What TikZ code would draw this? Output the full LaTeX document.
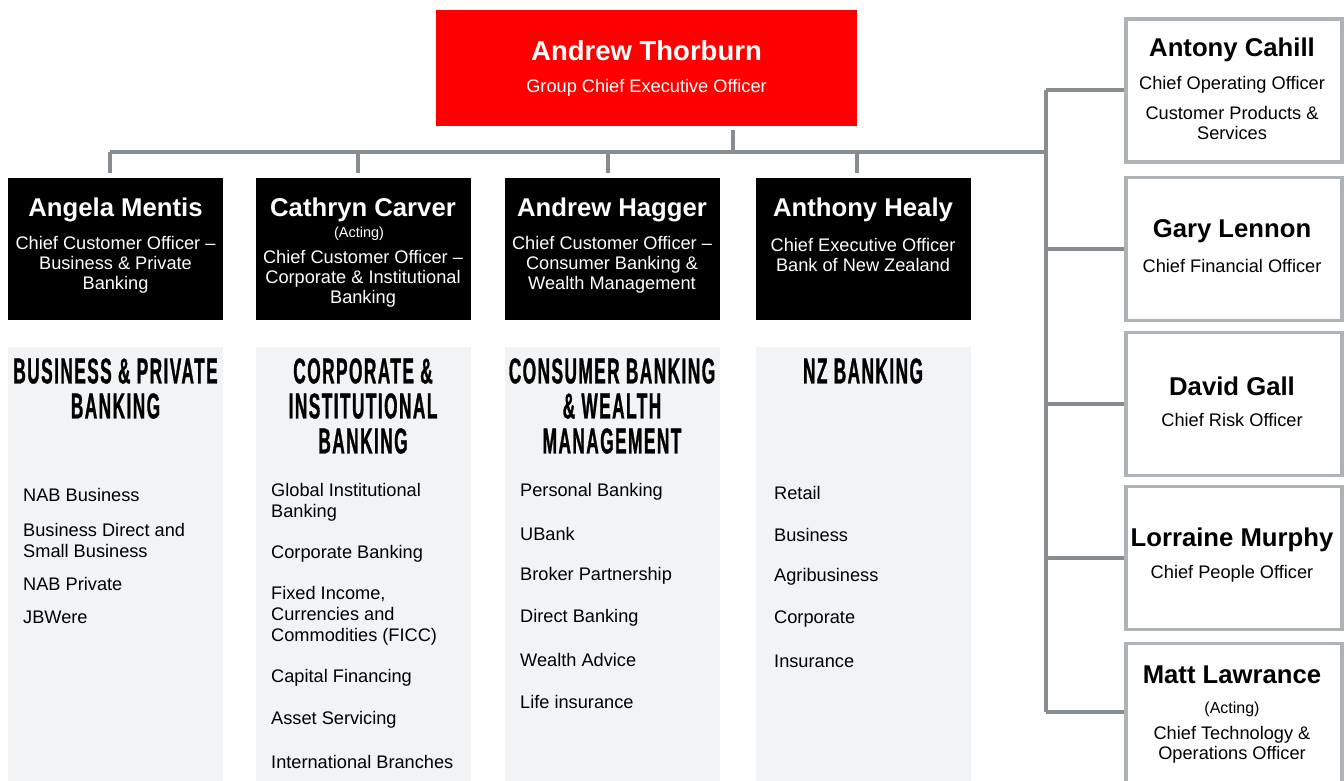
\documentclass[tikz,border=0pt]{standalone}
\usepackage{fontspec}
\setmainfont{Liberation Sans}
\newfontfamily\headfont[FakeStretch=0.48,FakeBold=0.8,LetterSpace=4]{Liberation Sans Bold}
\definecolor{nabred}{HTML}{FF0000}
\definecolor{conngray}{HTML}{868C90}
\definecolor{boxgray}{HTML}{ADB3B7}
\definecolor{panelgray}{HTML}{F2F3F5}
\begin{document}
\begin{tikzpicture}[x=1pt,y=-1pt,
  conn/.style={draw=conngray, line width=4pt},
  ceobox/.style={fill=nabred, minimum width=421pt, minimum height=116pt, anchor=north west, inner sep=0pt},
  execbox/.style={fill=black, minimum width=215pt, minimum height=142pt, anchor=north west, inner sep=0pt},
  panel/.style={fill=panelgray, minimum width=215pt, minimum height=440pt, anchor=north west, inner sep=0pt},
  sidebox/.style={draw=boxgray, line width=3.5pt, fill=white, minimum width=216pt, minimum height=143pt, anchor=north west, inner sep=0pt},
  pname/.style={font=\bfseries\fontsize{25.7}{28}\selectfont, inner sep=0pt},
  sub/.style={font=\fontsize{18.2}{20}\selectfont, align=center, inner sep=0pt},
  acting/.style={font=\fontsize{14.5}{16}\selectfont, inner sep=0pt},
  item/.style={font=\fontsize{18.2}{21}\selectfont, align=left, anchor=west, inner sep=0pt},
  head/.style={font=\headfont\fontsize{36}{35}\selectfont, align=center, inner sep=0pt}
]
\useasboundingbox (0,0) rectangle (1344,781);

% ---- connectors
\coordinate (ceodrop) at (733,130);
\coordinate (hub) at (733,152);
\coordinate (hleft) at (110,152);
\coordinate (hright) at (1046,152);
\coordinate (d1) at (110,173);
\coordinate (d2) at (358,173);
\coordinate (d3) at (608,173);
\coordinate (d4) at (857,173);
\coordinate (vtop) at (1046,90);
\coordinate (vbot) at (1046,712);

% ---- boxes
\node[ceobox] (ceo) at (436,10) {};
\node[execbox] (e1) at (8,178) {};
\node[execbox] (e2) at (256,178) {};
\node[execbox] (e3) at (505,178) {};
\node[execbox] (e4) at (756,178) {};
\node[panel] (p1) at (8,347) {};
\node[panel] (p2) at (256,347) {};
\node[panel] (p3) at (505,347) {};
\node[panel] (p4) at (756,347) {};

\draw[conn] (ceodrop) -- (hub);
\draw[conn] (hleft) -- (hright);
\draw[conn] (hleft) -- (d1);
\draw[conn] (d2 |- hub) -- (d2);
\draw[conn] (d3 |- hub) -- (d3);
\draw[conn] (d4 |- hub) -- (d4);
\draw[conn] (vtop) -- (vbot);

\node[sidebox] (s1) at (1124,17.5) {};
\node[sidebox] (s2) at (1124,175.5) {};
\node[sidebox] (s3) at (1124,330.5) {};
\node[sidebox] (s4) at (1124,484.5) {};
\node[sidebox] (s5) at (1124,641.5) {};

\draw[conn] (vtop) -- (s1.west |- vtop);
\draw[conn] (vtop |- s2.west) -- (s2.west);
\draw[conn] (vtop |- s3.west) -- (s3.west);
\draw[conn] (vtop |- s4.west) -- (s4.west);
\draw[conn] (vbot) -- (s5.west |- vbot);

% ---- CEO
\node[pname, font=\bfseries\fontsize{27.5}{30}\selectfont, text=white] (ceoname) at (646.5,51) {Andrew Thorburn};
\node[sub, text=white] (ceotitle) at (646.5,88) {Group Chief Executive Officer};

% ---- executives
\node[pname, text=white] (n1) at (115.5,210) {Angela Mentis};
\node[sub, text=white] (t1) at (115.5,265) {Chief Customer Officer –\\Business \& Private\\Banking};
\node[pname, text=white] (n2) at (363,210) {Cathryn Carver};
\node[acting, text=white] (a2) at (359,234) {(Acting)};
\node[sub, text=white] (t2) at (363,279) {Chief Customer Officer –\\Corporate \& Institutional\\Banking};
\node[pname, text=white] (n3) at (612,210) {Andrew Hagger};
\node[sub, text=white] (t3) at (612,265) {Chief Customer Officer –\\Consumer Banking \&\\Wealth Management};
\node[pname, text=white] (n4) at (863,210) {Anthony Healy};
\node[sub, text=white] (t4) at (863,255) {Chief Executive Officer\\Bank of New Zealand};

% ---- panel headings
\node[head] (h1) at (115.5,388.5) {BUSINESS \& PRIVATE\\BANKING};
\node[head] (h2) at (363,406) {CORPORATE \&\\INSTITUTIONAL\\BANKING};
\node[head] (h3) at (612,406) {CONSUMER BANKING\\\& WEALTH\\MANAGEMENT};
\node[head] (h4) at (863,371) {NZ BANKING};

% ---- panel items
\node[item] (i11) at (23,495) {NAB Business};
\node[item] (i12) at (23,540) {Business Direct and\\Small Business};
\node[item] (i13) at (23,584) {NAB Private};
\node[item] (i14) at (23,617) {JBWere};

\node[item] (i21) at (271,502) {Global Institutional\\Banking};
\node[item] (i22) at (271,554) {Corporate Banking};
\node[item] (i23) at (271,616) {Fixed Income,\\Currencies and\\Commodities (FICC)};
\node[item] (i24) at (271,678) {Capital Financing};
\node[item] (i25) at (271,720) {Asset Servicing};
\node[item] (i26) at (271,762) {International Branches};

\node[item] (i31) at (520,492) {Personal Banking};
\node[item] (i32) at (520,534) {UBank};
\node[item] (i33) at (520,576) {Broker Partnership};
\node[item] (i34) at (520,618) {Direct Banking};
\node[item] (i35) at (520,660) {Wealth Advice};
\node[item] (i36) at (520,702) {Life insurance};

\node[item] (i41) at (774,493) {Retail};
\node[item] (i42) at (774,535) {Business};
\node[item] (i43) at (774,577) {Agribusiness};
\node[item] (i44) at (774,619) {Corporate};
\node[item] (i45) at (774,661) {Insurance};

% ---- side executives
\node[pname] (sn1) at (1232,50) {Antony Cahill};
\node[sub] (st1a) at (1232,85) {Chief Operating Officer};
\node[sub] (st1b) at (1232,122.5) {Customer Products \&\\Services};
\node[pname] (sn2) at (1232,231) {Gary Lennon};
\node[sub] (st2) at (1232,266) {Chief Financial Officer};
\node[pname] (sn3) at (1232,386) {David Gall};
\node[sub] (st3) at (1232,420) {Chief Risk Officer};
\node[pname] (sn4) at (1232,540) {Lorraine Murphy};
\node[sub] (st4) at (1232,574) {Chief People Officer};
\node[pname] (sn5) at (1232,675) {Matt Lawrance};
\node[acting, font=\fontsize{16}{18}\selectfont] (sa5) at (1232,709) {(Acting)};
\node[sub] (st5) at (1232,745) {Chief Technology \&\\Operations Officer};
\end{tikzpicture}
\end{document}
